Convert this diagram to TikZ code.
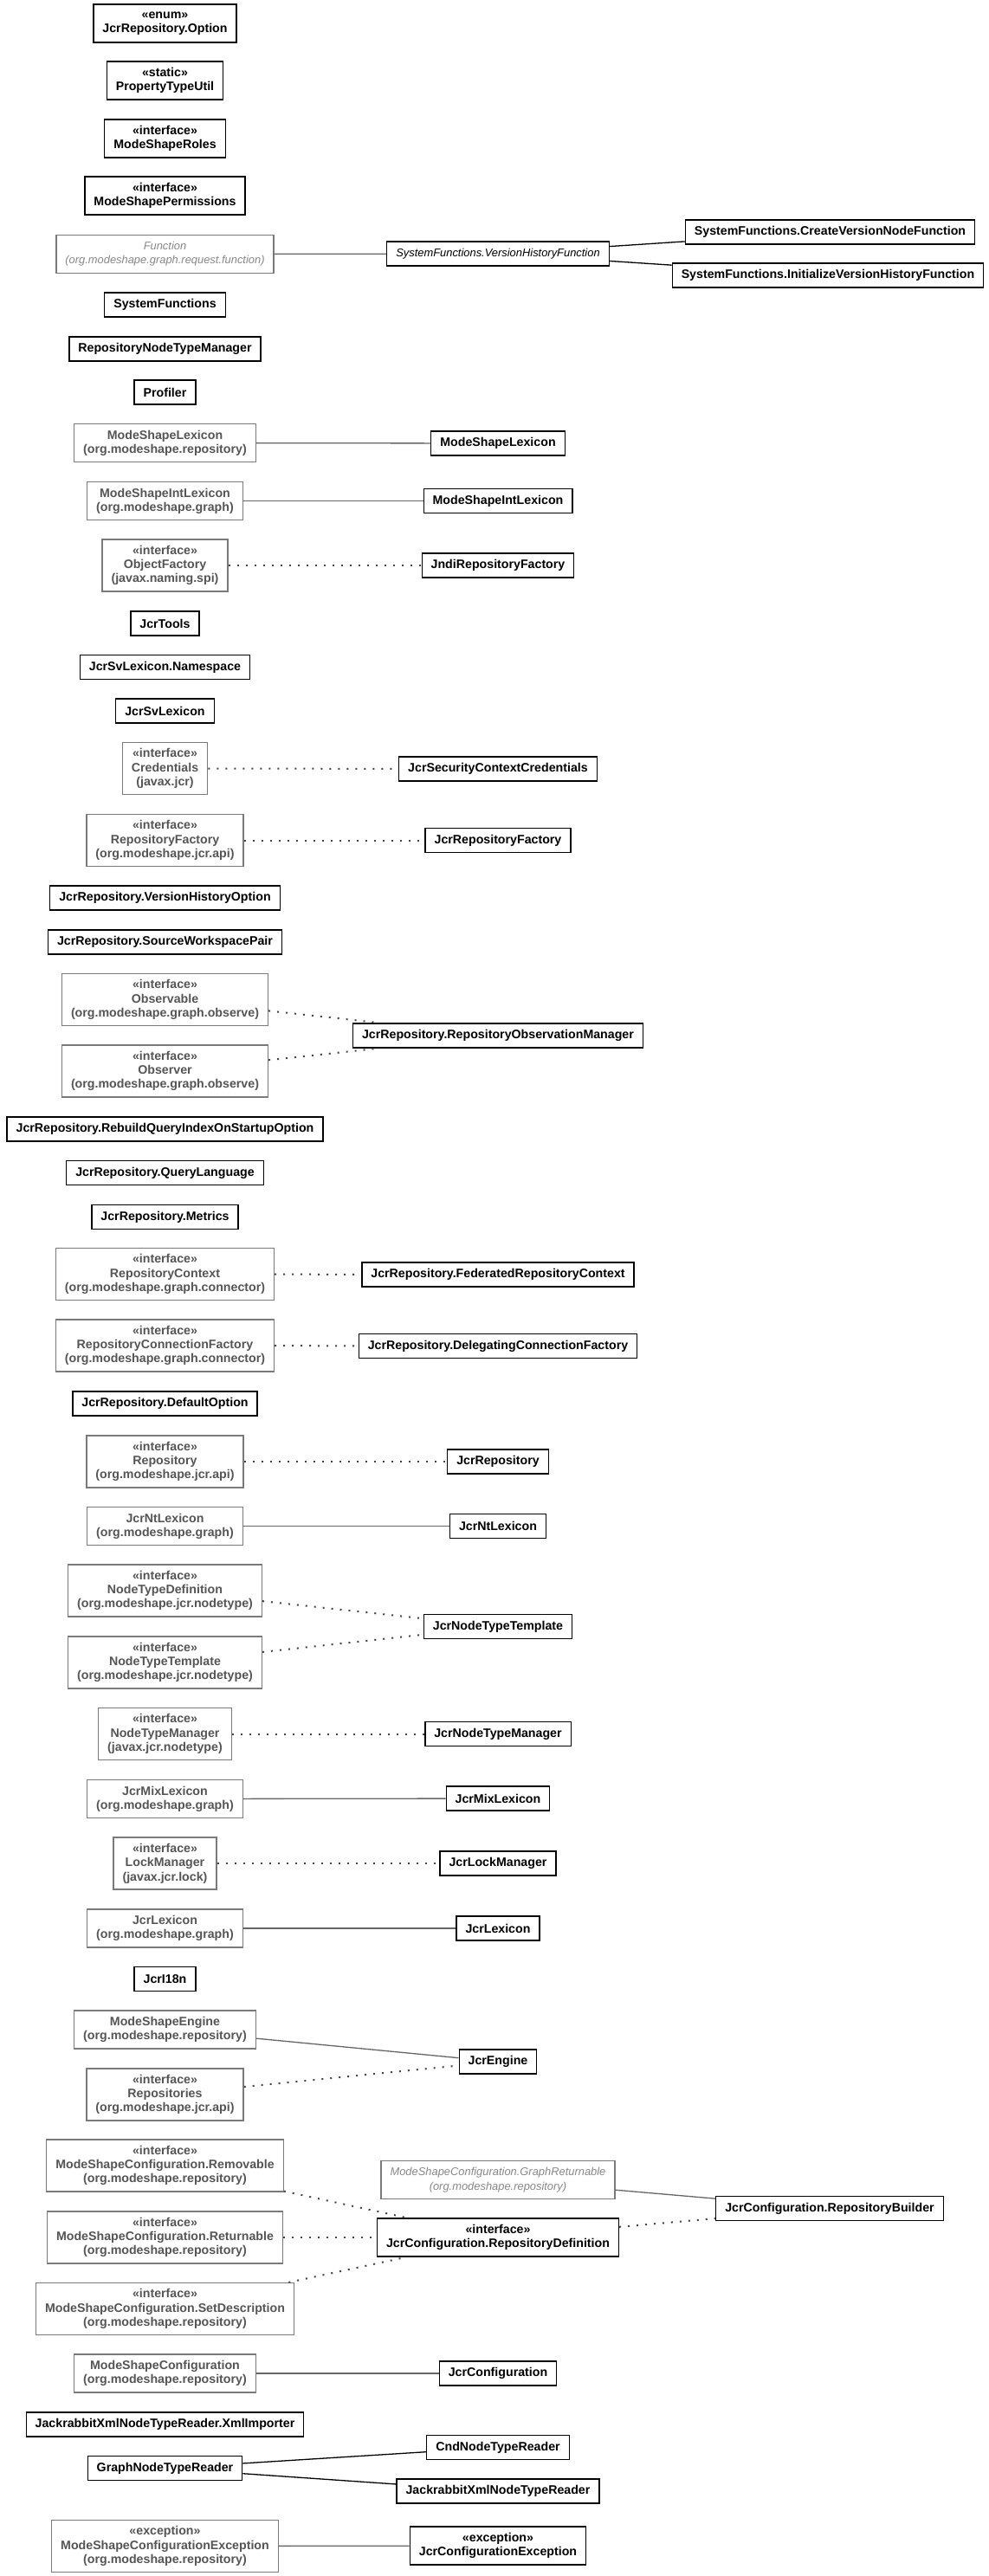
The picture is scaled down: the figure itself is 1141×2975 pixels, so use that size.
\documentclass[tikz,border=0pt]{standalone}
\usepackage{fontspec}
\setmainfont{Liberation Sans}
\definecolor{boxgray}{HTML}{7A7A7A}
\definecolor{textgray}{HTML}{555555}
\definecolor{itgray}{HTML}{888888}
\definecolor{linegray}{HTML}{666666}
\definecolor{dotgray}{HTML}{444444}
\newcommand\umlfont{\fontsize{14.2}{16.3}\selectfont}
\newcommand\umlitfont{\fontsize{12.9}{16.3}\selectfont\itshape}
\begin{document}
\begin{tikzpicture}[x=1pt,y=-1pt,
 cls/.style={draw=black, line width=1.3pt, fill=white, align=center, inner xsep=10.5pt, inner ysep=0pt, minimum height=28pt, font=\umlfont\bfseries, text=black},
 ext/.style={cls, draw=boxgray, text=textgray},
 abs/.style={font=\umlitfont},
 abstxt/.style={text=itgray},
 two/.style={minimum height=44pt},
 three/.style={minimum height=60pt},
 sol/.style={line width=1.3pt, draw=black},
 solg/.style={line width=1.3pt, draw=linegray},
 dot/.style={line width=2pt, dash pattern=on 2pt off 8pt, draw=dotgray}]
\useasboundingbox (0,0) rectangle (1141,2975);
% left column
\node[cls,two] (opt) at (190.5,27) {«enum»\\JcrRepository.Option};
\node[cls,two] (ptu) at (190.5,93) {«static»\\PropertyTypeUtil};
\node[cls,two] (roles) at (190.5,160) {«interface»\\ModeShapeRoles};
\node[cls,two] (perms) at (190.5,226) {«interface»\\ModeShapePermissions};
\node[ext,abs,abstxt,two] (func) at (190.5,293.5) {Function\\(org.modeshape.graph.request.function)};
\node[cls,abs] (vhf) at (575,293) {SystemFunctions.VersionHistoryFunction};
\node[cls] (cvnf) at (958.5,268) {SystemFunctions.CreateVersionNodeFunction};
\node[cls] (ivhf) at (956,318) {SystemFunctions.InitializeVersionHistoryFunction};
\node[cls] (sysf) at (190.5,352) {SystemFunctions};
\node[cls] (rntm) at (190.5,403) {RepositoryNodeTypeManager};
\node[cls] (prof) at (190.5,453) {Profiler};
\node[ext,two] (mslex) at (190.5,511.5) {ModeShapeLexicon\\(org.modeshape.repository)};
\node[cls] (mslexT) at (575,512) {ModeShapeLexicon};
\node[ext,two] (msint) at (190.5,578.5) {ModeShapeIntLexicon\\(org.modeshape.graph)};
\node[cls] (msintT) at (575,578.5) {ModeShapeIntLexicon};
\node[ext,three] (objf) at (190.5,653) {«interface»\\ObjectFactory\\(javax.naming.spi)};
\node[cls] (jndi) at (575,653) {JndiRepositoryFactory};
\node[cls] (tools) at (190.5,720) {JcrTools};
\node[cls] (svns) at (190.5,770.5) {JcrSvLexicon.Namespace};
\node[cls] (svlex) at (190.5,821) {JcrSvLexicon};
\node[ext,three] (cred) at (190.5,887.5) {«interface»\\Credentials\\(javax.jcr)};
\node[cls] (jscc) at (575,888) {JcrSecurityContextCredentials};
\node[ext,three] (repf) at (190.5,970.5) {«interface»\\RepositoryFactory\\(org.modeshape.jcr.api)};
\node[cls] (jrf) at (575,970.5) {JcrRepositoryFactory};
\node[cls] (vho) at (190.5,1037) {JcrRepository.VersionHistoryOption};
\node[cls] (swp) at (190.5,1088) {JcrRepository.SourceWorkspacePair};
\node[ext,three] (observable) at (190.5,1154.5) {«interface»\\Observable\\(org.modeshape.graph.observe)};
\node[cls] (rom) at (575,1196) {JcrRepository.RepositoryObservationManager};
\node[ext,three] (observer) at (190.5,1237) {«interface»\\Observer\\(org.modeshape.graph.observe)};
\node[cls] (rqi) at (190.5,1304) {JcrRepository.RebuildQueryIndexOnStartupOption};
\node[cls] (ql) at (190.5,1354.5) {JcrRepository.QueryLanguage};
\node[cls] (metrics) at (190.5,1405.5) {JcrRepository.Metrics};
\node[ext,three] (repctx) at (190.5,1471.5) {«interface»\\RepositoryContext\\(org.modeshape.graph.connector)};
\node[cls] (frc) at (575,1472) {JcrRepository.FederatedRepositoryContext};
\node[ext,three] (rcf) at (190.5,1554) {«interface»\\RepositoryConnectionFactory\\(org.modeshape.graph.connector)};
\node[cls] (dcf) at (575,1554.5) {JcrRepository.DelegatingConnectionFactory};
\node[cls] (defopt) at (190.5,1621) {JcrRepository.DefaultOption};
\node[ext,three] (repo) at (190.5,1688) {«interface»\\Repository\\(org.modeshape.jcr.api)};
\node[cls] (jrepo) at (575,1688) {JcrRepository};
\node[ext,two] (ntlex) at (190.5,1762.5) {JcrNtLexicon\\(org.modeshape.graph)};
\node[cls] (ntlexT) at (575,1762.5) {JcrNtLexicon};
\node[ext,three] (ntdef) at (190.5,1837) {«interface»\\NodeTypeDefinition\\(org.modeshape.jcr.nodetype)};
\node[cls] (jntt) at (575,1878.5) {JcrNodeTypeTemplate};
\node[ext,three] (ntt) at (190.5,1920) {«interface»\\NodeTypeTemplate\\(org.modeshape.jcr.nodetype)};
\node[ext,three] (ntm) at (190.5,2002.5) {«interface»\\NodeTypeManager\\(javax.jcr.nodetype)};
\node[cls] (jntm) at (575,2002.5) {JcrNodeTypeManager};
\node[ext,two] (mixlex) at (190.5,2077.5) {JcrMixLexicon\\(org.modeshape.graph)};
\node[cls] (mixlexT) at (575,2077) {JcrMixLexicon};
\node[ext,three] (lockm) at (190.5,2152) {«interface»\\LockManager\\(javax.jcr.lock)};
\node[cls] (jlm) at (575,2152) {JcrLockManager};
\node[ext,two] (jlex) at (190.5,2227) {JcrLexicon\\(org.modeshape.graph)};
\node[cls] (jlexT) at (575,2227) {JcrLexicon};
\node[cls] (i18n) at (190.5,2285.5) {JcrI18n};
\node[ext,two] (mse) at (190.5,2344) {ModeShapeEngine\\(org.modeshape.repository)};
\node[cls] (jengine) at (575,2381) {JcrEngine};
\node[ext,three] (repos) at (190.5,2419) {«interface»\\Repositories\\(org.modeshape.jcr.api)};
\node[ext,three] (removable) at (190.5,2501) {«interface»\\ModeShapeConfiguration.Removable\\(org.modeshape.repository)};
\node[ext,abs,abstxt,two] (graphret) at (575,2517.5) {ModeShapeConfiguration.GraphReturnable\\(org.modeshape.repository)};
\node[cls] (rbuilder) at (958,2550.5) {JcrConfiguration.RepositoryBuilder};
\node[cls,two] (repdef) at (575,2584) {«interface»\\JcrConfiguration.RepositoryDefinition};
\node[ext,three] (returnable) at (190.5,2584) {«interface»\\ModeShapeConfiguration.Returnable\\(org.modeshape.repository)};
\node[ext,three] (setdesc) at (190.5,2666.5) {«interface»\\ModeShapeConfiguration.SetDescription\\(org.modeshape.repository)};
\node[ext,two] (msconf) at (190.5,2741) {ModeShapeConfiguration\\(org.modeshape.repository)};
\node[cls] (jconf) at (575,2741) {JcrConfiguration};
\node[cls] (xmlimp) at (190.5,2800) {JackrabbitXmlNodeTypeReader.XmlImporter};
\node[cls] (gntr) at (190.5,2850.5) {GraphNodeTypeReader};
\node[cls] (cnd) at (575,2826.5) {CndNodeTypeReader};
\node[cls] (jxml) at (575,2877) {JackrabbitXmlNodeTypeReader};
\node[ext,three] (msce) at (190.5,2940.5) {«exception»\\ModeShapeConfigurationException\\(org.modeshape.repository)};
\node[cls,two] (jce) at (575,2940) {«exception»\\JcrConfigurationException};
% connectors
\draw[solg] (func) -- (vhf);
\draw[sol] (vhf) -- (cvnf);
\draw[sol] (vhf) -- (ivhf);
\draw[solg] (mslex) -- (mslexT);
\draw[solg] (msint) -- (msintT);
\draw[dot] (objf) -- (jndi);
\draw[dot] (cred) -- (jscc);
\draw[dot] (repf) -- (jrf);
\draw[dot] (observable) -- (rom);
\draw[dot] (observer) -- (rom);
\draw[dot] (repctx) -- (frc);
\draw[dot] (rcf) -- (dcf);
\draw[dot] (repo) -- (jrepo);
\draw[solg] (ntlex) -- (ntlexT);
\draw[dot] (ntdef) -- (jntt);
\draw[dot] (ntt) -- (jntt);
\draw[dot] (ntm) -- (jntm);
\draw[solg] (mixlex) -- (mixlexT);
\draw[dot] (lockm) -- (jlm);
\draw[solg] (jlex) -- (jlexT);
\draw[solg] (mse) -- (jengine);
\draw[dot] (repos) -- (jengine);
\draw[dot] (removable) -- (repdef);
\draw[dot] (returnable) -- (repdef);
\draw[dot] (setdesc) -- (repdef);
\draw[solg] (graphret) -- (rbuilder);
\draw[dot] (repdef) -- (rbuilder);
\draw[solg] (msconf) -- (jconf);
\draw[sol] (gntr) -- (cnd);
\draw[sol] (gntr) -- (jxml);
\draw[solg] (msce) -- (jce);
\end{tikzpicture}
\end{document}
